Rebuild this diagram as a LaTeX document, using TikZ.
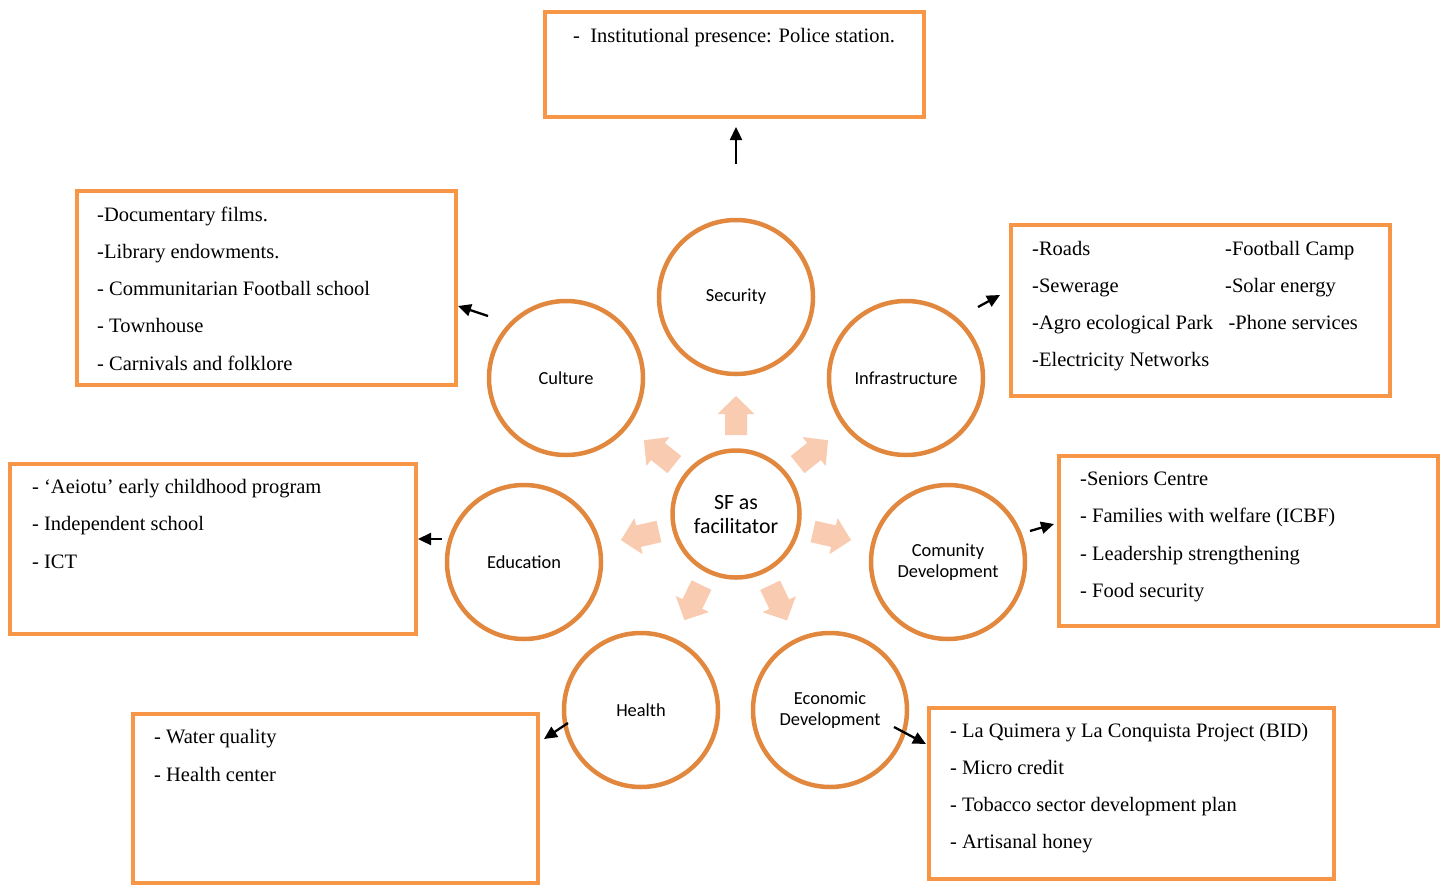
\documentclass[tikz,border=0pt]{standalone}
\usepackage{fontspec}
\setmainfont{Liberation Serif}
\newfontfamily\circfont{Carlito}
\usetikzlibrary{arrows.meta}

\definecolor{ringc}{RGB}{226,136,62}
\definecolor{boxc}{RGB}{247,150,70}
\definecolor{blockc}{RGB}{249,203,176}

\tikzset{
  ring/.style={circle, draw=ringc, line width=4.5pt, minimum size=154pt,
    inner sep=0pt, align=center, font=\circfont\fontsize{18.4}{21}\selectfont},
  hub/.style={ring, minimum size=127pt, font=\circfont\fontsize{21.8}{24}\selectfont},
  listbox/.style={rectangle, draw=boxc, line width=4pt, inner sep=0pt, outer sep=0pt},
  item/.style={anchor=base west, inner sep=0pt, font=\fontsize{20.5}{24}\selectfont},
  pointer/.style={line width=2.3pt, -{Triangle[length=13pt,width=12pt]}},
  blockarrow/.style={fill=blockc, draw=none}
}

\begin{document}
\begin{tikzpicture}[x=1pt, y=-1pt]
\useasboundingbox (0,0) rectangle (1449,884);

% hub and topic circles
\node[hub]  (sf)  at (736,514) {SF as\\facilitator};
\node[ring] (sec) at (736,297) {Security};
\node[ring] (cul) at (566,378) {Culture};
\node[ring] (inf) at (906,378) {Infrastructure};
\node[ring] (edu) at (524,562) {Education};
\node[ring] (com) at (948,562) {Comunity\\Development};
\node[ring] (hea) at (641,710) {Health};
\node[ring] (eco) at (830,710) {Economic\\Development};

% wide arrows from the hub towards each topic
\foreach \ang in {90,141.3,38.7,192.8,-12.8,244.1,-64.4}{
  \begin{scope}[shift={(sf.center)}, rotate=\ang]
    \fill[blockarrow] (79,-11) -- (100,-11) -- (100,-18.5) -- (118,0)
      -- (100,18.5) -- (100,11) -- (79,11) -- cycle;
  \end{scope}
}

% list boxes
\node[listbox, minimum width=379pt, minimum height=105pt] (secbox) at (734.5,64.5) {};
\node[listbox, minimum width=379pt, minimum height=194pt] (culbox) at (266.5,288) {};
\node[listbox, minimum width=379pt, minimum height=171pt] (infbox) at (1200.5,310.5) {};
\node[listbox, minimum width=406pt, minimum height=170pt] (edubox) at (213,549) {};
\node[listbox, minimum width=379pt, minimum height=170pt] (combox) at (1248.5,541) {};
\node[listbox, minimum width=405pt, minimum height=169pt] (heabox) at (335.5,798.5) {};
\node[listbox, minimum width=405pt, minimum height=171pt] (ecobox) at (1131.5,793.5) {};

% box contents
\node[item] (sec-1) at (573,42) {-\ \ Institutional presence: Police station.};

\foreach \t [count=\i, evaluate=\i as \yy using 221+37.3*(\i-1)] in
  {-Documentary films., -Library endowments., - Communitarian Football school,
   - Townhouse, - Carnivals and folklore}
  \node[item] (cul-\i) at (97,\yy) {\t};

\foreach \t [count=\i, evaluate=\i as \yy using 255+37.3*(\i-1)] in
  {-Roads, -Sewerage, -Agro ecological Park, -Electricity Networks}
  \node[item] (infa-\i) at (1032,\yy) {\t};
\foreach \t [count=\i, evaluate=\i as \yy using 255+37.3*(\i-1)] in
  {-Football Camp, -Solar energy, \,-Phone services}
  \node[item] (infb-\i) at (1225,\yy) {\t};

\foreach \t [count=\i, evaluate=\i as \yy using 493+37.5*(\i-1)] in
  {- `Aeiotu' early childhood program, - Independent school, - ICT}
  \node[item] (edu-\i) at (32,\yy) {\t};

\foreach \t [count=\i, evaluate=\i as \yy using 485+37.5*(\i-1)] in
  {-Seniors Centre, - Families with welfare (ICBF), - Leadership strengthening,
   - Food security}
  \node[item] (com-\i) at (1080,\yy) {\t};

\foreach \t [count=\i, evaluate=\i as \yy using 743+38*(\i-1)] in
  {- Water quality, - Health center}
  \node[item] (hea-\i) at (154,\yy) {\t};

\foreach \t [count=\i, evaluate=\i as \yy using 737+37.3*(\i-1)] in
  {- La Quimera y La Conquista Project (BID), - Micro credit,
   - Tobacco sector development plan, - Artisanal honey}
  \node[item] (eco-\i) at (950,\yy) {\t};

% pointer ends
\coordinate (sec-s) at (736,164);  \coordinate (sec-t) at (736,127);
\coordinate (cul-s) at (488,316);  \coordinate (cul-t) at (458,306);
\coordinate (inf-s) at (978,307);  \coordinate (inf-t) at (1000,295);
\coordinate (edu-s) at (442,539);  \coordinate (edu-t) at (418,539);
\coordinate (com-s) at (1030,531); \coordinate (com-t) at (1054,524);
\coordinate (hea-s) at (568,723);  \coordinate (hea-t) at (544,739);
\coordinate (eco-s) at (894,727);  \coordinate (eco-t) at (926,744);

\foreach \k in {sec,cul,inf,edu,com,hea,eco}
  \draw[pointer] (\k-s) -- (\k-t);

\end{tikzpicture}
\end{document}
